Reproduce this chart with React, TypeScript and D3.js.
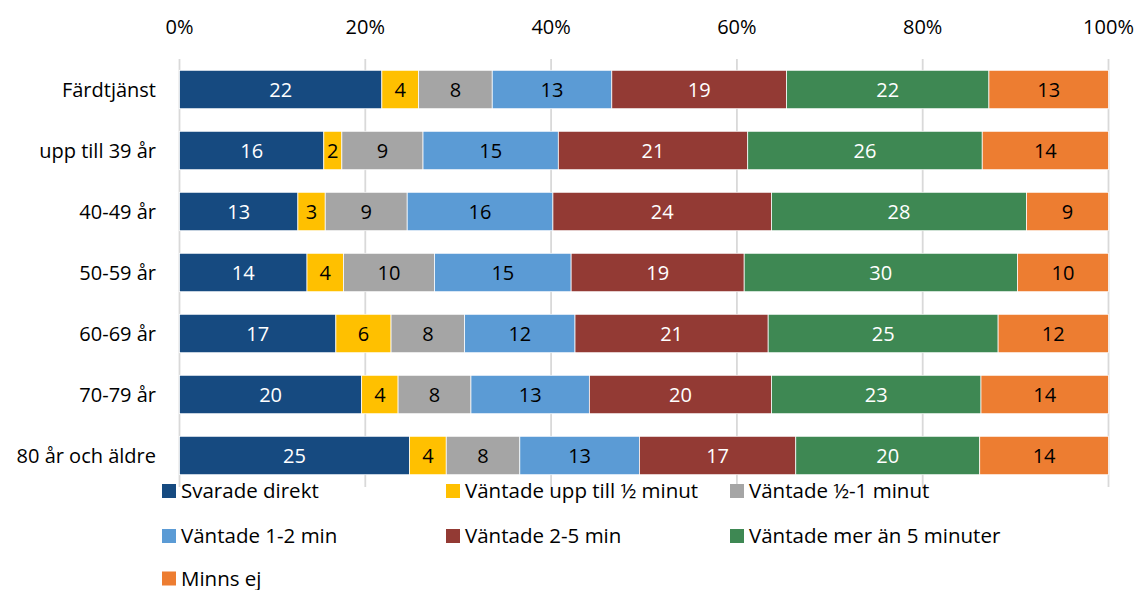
import React from "react";
import * as d3 from "d3";

// Age groups (rows, top to bottom)
const categories = [
  "Färdtjänst",
  "upp till 39 år",
  "40-49 år",
  "50-59 år",
  "60-69 år",
  "70-79 år",
  "80 år och äldre",
];

// Answer options (stack order, left to right)
const seriesNames = [
  "Svarade direkt",
  "Väntade upp till ½ minut",
  "Väntade ½-1 minut",
  "Väntade 1-2 min",
  "Väntade 2-5 min",
  "Väntade mer än 5 minuter",
  "Minns ej",
];

// Share per row (percent), one array per answer option
const svaradeDirekt = [22, 16, 13, 14, 17, 20, 25];
const upptillHalv = [4, 2, 3, 4, 6, 4, 4];
const halvTillEn = [8, 9, 9, 10, 8, 8, 8];
const enTillTva = [13, 15, 16, 15, 12, 13, 13];
const tvaTillFem = [19, 21, 24, 19, 21, 20, 17];
const merAnFem = [22, 26, 28, 30, 25, 23, 20];
const minnsEj = [13, 14, 9, 10, 12, 14, 14];

const seriesValues = [svaradeDirekt, upptillHalv, halvTillEn, enTillTva, tvaTillFem, merAnFem, minnsEj];

const tickValues = [0, 0.2, 0.4, 0.6, 0.8, 1];

const colors = ["#164a80", "#ffc000", "#a5a5a5", "#5b9bd5", "#933a34", "#3e8853", "#ed7d31"];
const labelColors = ["#ffffff", "#000000", "#000000", "#000000", "#ffffff", "#ffffff", "#000000"];

const W = 1138;
const H = 590;
const FONT = "'Open Sans', 'Noto Sans', sans-serif";

export default function App() {
  const rows = categories.map((c, i) => {
    const r: Record<string, any> = { cat: c };
    seriesNames.forEach((s, j) => (r[s] = seriesValues[j][i]));
    return r;
  });

  const stacked = d3
    .stack<Record<string, any>>()
    .keys(seriesNames)
    .offset(d3.stackOffsetExpand)(rows);

  const x = d3.scaleLinear().domain([0, 1]).range([179.5, 1108.5]);
  const y = d3
    .scaleBand<string>()
    .domain(categories)
    .range([59, 486])
    .paddingInner(0.37)
    .paddingOuter(0.185);

  const legendCols = [162, 446, 730];
  const legendRows = [491, 536, 578.5];

  return (
    <svg
      width={W}
      height={H}
      style={{ position: "absolute", left: 0, top: 0, background: "#fff" }}
      fontFamily={FONT}
    >
      {/* vertical gridlines */}
      {tickValues.map((t) => (
        <line
          key={"g" + t}
          x1={x(t)}
          x2={x(t)}
          y1={59}
          y2={487}
          stroke="#d9d9d9"
          strokeWidth={1.8}
        />
      ))}
      {/* tick labels */}
      {tickValues.map((t) => (
        <text
          key={"t" + t}
          x={x(t)}
          y={34}
          textAnchor="middle"
          fontSize={20}
          fill="#000"
        >
          {d3.format(".0%")(t)}
        </text>
      ))}
      {/* category labels */}
      {categories.map((c) => (
        <text
          key={"c" + c}
          x={156}
          y={(y(c) as number) + y.bandwidth() / 2}
          dy="0.35em"
          textAnchor="end"
          fontSize={20}
          fill="#000"
        >
          {c}
        </text>
      ))}
      {/* stacked bars */}
      {stacked.map((layer, j) => (
        <g key={layer.key}>
          {layer.map((d, i) => {
            const x0 = x(d[0]);
            const x1 = x(d[1]);
            const yy = y(categories[i]) as number;
            return (
              <g key={i}>
                <rect
                  x={x0}
                  y={yy}
                  width={x1 - x0}
                  height={y.bandwidth()}
                  fill={colors[j]}
                  stroke="#ffffff"
                  strokeWidth={0.75}
                />
                <text
                  x={(x0 + x1) / 2}
                  y={yy + y.bandwidth() / 2}
                  dy="0.36em"
                  textAnchor="middle"
                  fontSize={20}
                  fill={labelColors[j]}
                >
                  {seriesValues[j][i]}
                </text>
              </g>
            );
          })}
        </g>
      ))}
      {/* legend */}
      {seriesNames.map((s, j) => {
        const cx = legendCols[j % 3];
        const cy = legendRows[Math.floor(j / 3)];
        return (
          <g key={"l" + s}>
            <rect x={cx} y={cy - 7} width={14} height={14} fill={colors[j]} />
            <text x={cx + 19} y={cy} dy="0.35em" fontSize={20.5} fill="#000">
              {s}
            </text>
          </g>
        );
      })}
    </svg>
  );
}
